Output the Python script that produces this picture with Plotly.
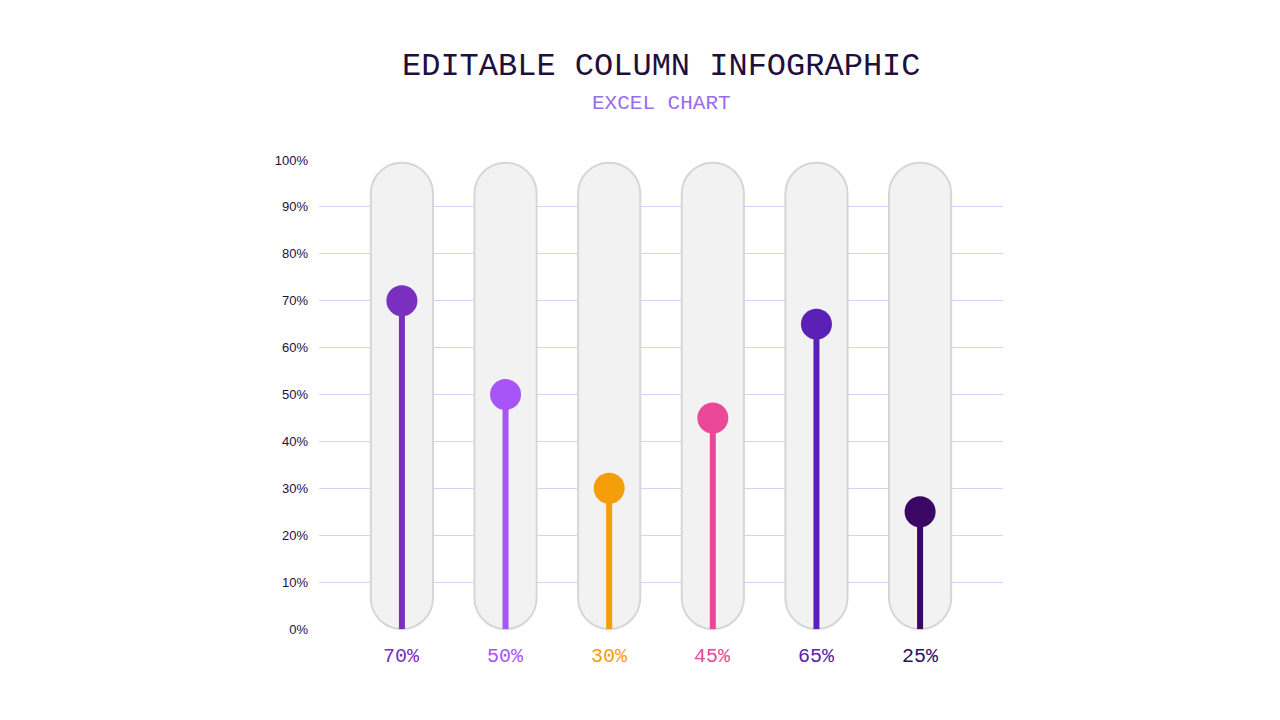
import plotly.graph_objects as go

values = [70, 50, 30, 45, 65, 25]
labels = ["70%", "50%", "30%", "45%", "65%", "25%"]
colors = ["#7b2fbe", "#a855f7", "#f59e0b", "#ec4899", "#5b21b6", "#3b0764"]
label_colors = ["#7b2fbe", "#a855f7", "#f59e0b", "#ec4899", "#5b21b6", "#2e1065"]
ticks = [0, 10, 20, 30, 40, 50, 60, 70, 80, 90, 100]

# pill geometry in data units (x: 106 px/unit, y: 4.85 px/%)
hw = 0.3
ry = 6.6
k = 0.5523
ytop, ybot = 99.4, 0.0


def pill(cx):
    l, r = cx - hw, cx + hw
    return (f"M {l},{ytop-ry} "
            f"C {l},{ytop-ry+k*ry} {cx-k*hw},{ytop} {cx},{ytop} "
            f"C {cx+k*hw},{ytop} {r},{ytop-ry+k*ry} {r},{ytop-ry} "
            f"L {r},{ybot+ry} "
            f"C {r},{ybot+ry-k*ry} {cx+k*hw},{ybot} {cx},{ybot} "
            f"C {cx-k*hw},{ybot} {l},{ybot+ry-k*ry} {l},{ybot+ry} Z")


fig = go.Figure()
for i, v in enumerate(values):
    fig.add_shape(type="path", path=pill(i), xref="x", yref="y",
                  fillcolor="#f2f2f2", line=dict(color="#d6d6d6", width=2),
                  layer="between")

for i, v in enumerate(values):
    fig.add_trace(go.Scatter(x=[i, i], y=[0, v], mode="lines",
                             line=dict(color=colors[i], width=6), hoverinfo="skip"))
    fig.add_trace(go.Scatter(x=[i], y=[v], mode="markers",
                             marker=dict(color=colors[i], size=31)))
    fig.add_annotation(x=i, y=0, yshift=-27, text=labels[i], showarrow=False,
                       font=dict(family="Liberation Mono", size=20, color=label_colors[i]))

fig.add_annotation(text="EDITABLE COLUMN INFOGRAPHIC", xref="paper", yref="paper",
                   x=0.5, y=1, yshift=113, showarrow=False,
                   font=dict(family="Liberation Mono", size=32, color="#1e0f3c"))
fig.add_annotation(text="EXCEL CHART", xref="paper", yref="paper",
                   x=0.5, y=1, yshift=69, showarrow=False,
                   font=dict(family="Liberation Mono", size=21, color="#9b6ce8"))

fig.update_layout(
    showlegend=False,
    paper_bgcolor="white", plot_bgcolor="white",
    margin=dict(l=311, r=269, t=151, b=82),
    xaxis=dict(range=[-0.8, 5.8], showticklabels=False, showgrid=False, zeroline=False),
    yaxis=dict(range=[-0.2, 100.2], tickvals=ticks, ticktext=[f"{t}%" for t in ticks],
               gridcolor="#dccdf2", zeroline=False, ticks="", ticklabelstandoff=10,
               tickfont=dict(family="Liberation Sans", size=13, color="#1e0f3c")),
)
fig.write_html("out.html")
